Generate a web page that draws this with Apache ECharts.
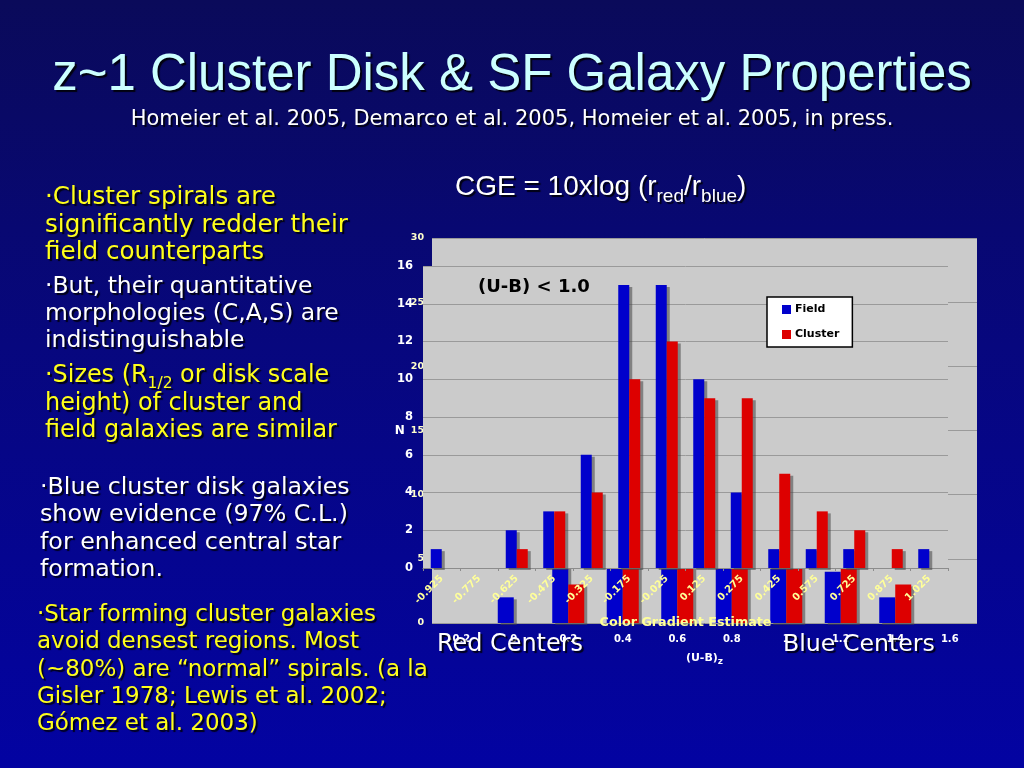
<!DOCTYPE html>
<html>
<head>
<meta charset="utf-8">
<script src="https://cdn.jsdelivr.net/npm/echarts@6/dist/echarts.min.js"></script>
<style>
html,body{margin:0;padding:0;background:#06065a;}
#c{width:1024px;height:768px;background:linear-gradient(180deg,#0a0a5a 0%,#07077e 45%,#0303a2 100%);}
</style>
</head>
<body>
<div id="c"></div>
<script>
// ---- front chart: Color Gradient Estimate histogram ----
const frontCategories = ['-0.925','-0.775','-0.625','-0.475','-0.325','-0.175','-0.025','0.125','0.275','0.425','0.575','0.725','0.875','1.025'];
const fieldCGE   = [1,0,2,3,6,15,15,10,4,1,1,1,0,1];
const clusterCGE = [0,0,1,3,4,10,12,9,9,5,3,2,1,0];
const frontYTicks = [0,2,4,6,8,10,12,14,16];

// ---- back chart: (U-B)z histogram (mostly hidden behind the front chart) ----
const backCategories = ['-0.2','0','0.2','0.4','0.6','0.8','1','1.2','1.4','1.6'];
const fieldUB   = [0,2,6,14,22,18,12,4,2,0];
const clusterUB = [0,0,3,8,18,20,16,10,3,0];
const backYTicks = [0,5,10,15,20,25,30];

const seriesNames = ['Field','Cluster'];

const LF = 'DejaVu Sans';
const M = document.createElement('canvas').getContext('2d');
function plain(t){ return t.replace(/\{[a-z]+\|([^}]*)\}/g,'$1'); }
function fit(text, fam, weight, w){
  M.font = weight + ' 100px "' + fam + '"';
  return 100 * w / M.measureText(plain(text)).width;
}

const shadowTxt = {textShadowColor:'rgba(0,0,0,0.85)', textShadowOffsetX:2, textShadowOffsetY:2, textShadowBlur:1};

function textEl(x, y, text, size, color, extra){
  extra = extra || {};
  const fam = extra.family || LF;
  const weight = extra.weight || 'normal';
  const st = Object.assign({
    text: text, fill: color, fontSize: size, fontFamily: fam, fontWeight: weight,
    align: extra.align || 'left', textAlign: extra.align || 'left',
    verticalAlign: 'middle', textVerticalAlign: 'middle',
    lineHeight: size * 1.3,
    rich: {
      s: {fill: color, fontSize: size * 0.65, fontFamily: fam, fontWeight: weight,
          lineHeight: size * 0.6, verticalAlign: 'bottom'}
    }
  }, extra.shadow === false ? {} : shadowTxt);
  return {type:'text', x:x, y:y, z:30, silent:true, style: st};
}

const blocks = [
  {x:45, color:'#ffff1a', ref:1, refW:303, lines:[['·Cluster spirals are',198],['significantly redder their',226],['field counterparts',253]]},
  {x:45, color:'#ffffff', ref:1, refW:294, lines:[['·But, their quantitative',287],['morphologies (C,A,S) are',314],['indistinguishable',341]]},
  {x:45, color:'#ffff1a', ref:2, refW:292, lines:[['·Sizes (R{s|1/2} or disk scale',376],['height) of cluster and',404],['field galaxies are similar',431]]},
  {x:40, color:'#ffffff', ref:0, refW:310, lines:[['·Blue cluster disk galaxies',488],['show evidence (97% C.L.)',515],['for enhanced central star',543],['formation.',570]]},
  {x:37, color:'#ffff1a', ref:2, refW:391, lines:[['·Star forming cluster galaxies',615],['avoid densest regions. Most',642],['(~80%) are “normal” spirals. (a la',670],['Gisler 1978; Lewis et al. 2002;',697],['Gómez et al. 2003)',724]]}
];

const graphics = [];
blocks.forEach(b => {
  const sz = fit(b.lines[b.ref][0], LF, 'normal', b.refW);
  b.lines.forEach(l => graphics.push(textEl(b.x, l[1], l[0], sz, b.color)));
});

const titleText = 'z~1 Cluster Disk & SF Galaxy Properties';
graphics.push(textEl(512, 76, titleText, fit(titleText,'Liberation Sans','normal',920), '#ccffff', {family:'Liberation Sans', align:'center'}));
const subText = 'Homeier et al. 2005, Demarco et al. 2005, Homeier et al. 2005, in press.';
graphics.push(textEl(512, 120, subText, fit(subText, LF, 'normal', 763), '#ffffff', {align:'center'}));

// CGE formula
graphics.push({type:'text', x:455, y:187, z:30, silent:true, style: Object.assign({
  text:'{m|CGE = 10xlog (r}{s|red}{m|/r}{s|blue}{m|)}',
  fill:'#fff', align:'left', textAlign:'left', verticalAlign:'middle', textVerticalAlign:'middle',
  rich:{
    m:{fill:'#fff', fontSize:28, fontFamily:'Liberation Sans', lineHeight:38},
    s:{fill:'#fff', fontSize:19, fontFamily:'Liberation Sans', lineHeight:20, verticalAlign:'bottom'}
  }}, shadowTxt)});

const ubText = '(U-B) < 1.0';
graphics.push(textEl(478, 287, ubText, fit(ubText, LF, 'bold', 112), '#000', {weight:'bold', shadow:false}));
graphics.push(textEl(437, 645, 'Red Centers', fit('Red Centers', LF, 'normal', 146), '#fff'));
graphics.push(textEl(783, 645, 'Blue Centers', fit('Blue Centers', LF, 'normal', 152), '#fff'));

const barShadow = {shadowColor:'rgba(70,70,70,0.55)', shadowBlur:0, shadowOffsetX:3, shadowOffsetY:2};

const option = {
  backgroundColor: 'transparent',
  animation: false,
  grid: [
    {left:432, top:238, width:545, height:385, show:true, backgroundColor:'#cbcbcb', borderWidth:0, z:0},
    {left:423, top:266, width:525, height:302, show:true, backgroundColor:'#cbcbcb', borderWidth:0, z:3}
  ],
  legend: {
    data: seriesNames, orient:'vertical', left:767, top:297,
    backgroundColor:'#ffffff', borderColor:'#000', borderWidth:1.5, borderRadius:0,
    padding:[7,13,7,15], itemGap:14, itemWidth:9, itemHeight:9, icon:'rect',
    selectedMode:false, z:10,
    itemStyle:{shadowBlur:0, shadowOffsetX:0, shadowOffsetY:0, shadowColor:'transparent', borderWidth:0},
    textStyle:{color:'#000', fontFamily:LF, fontWeight:'bold', fontSize:11, padding:[0,0,0,-1]}
  },
  xAxis: [
    {type:'category', gridIndex:0, data:backCategories, z:1,
      axisLine:{show:false}, axisTick:{show:false}, splitLine:{show:false},
      axisLabel:{interval:0, color:'#fff', fontFamily:LF, fontWeight:'bold', fontSize:10, margin:11},
      name:'{a|(U-B)}{b|z}', nameLocation:'middle', nameGap:27,
      nameTextStyle:{rich:{
        a:{color:'#fff', fontFamily:LF, fontWeight:'bold', fontSize:11, lineHeight:16},
        b:{color:'#fff', fontFamily:LF, fontWeight:'bold', fontSize:9, lineHeight:8, verticalAlign:'bottom'}
      }}},
    {type:'category', gridIndex:1, data:frontCategories, z:4,
      axisLine:{show:true, lineStyle:{color:'#8c8c8c', width:1}},
      axisTick:{show:true, length:3, lineStyle:{color:'#8c8c8c'}},
      axisLabel:{interval:0, rotate:45, color:'#ffff99', fontFamily:LF, fontWeight:'bold', fontSize:10, margin:9},
      name:'Color Gradient Estimate', nameLocation:'middle', nameGap:48,
      nameTextStyle:{color:'#ffff99', fontFamily:LF, fontWeight:'bold', fontSize: fit('Color Gradient Estimate', LF, 'bold', 172)}}
  ],
  yAxis: [
    {type:'value', gridIndex:0, min:backYTicks[0], max:backYTicks[backYTicks.length-1], interval:backYTicks[1]-backYTicks[0], z:1,
      axisLine:{show:false}, axisTick:{show:false},
      splitLine:{lineStyle:{color:'#9a9a9a', width:1}},
      axisLabel:{color:'#ffffcc', fontFamily:LF, fontWeight:'bold', fontSize:9.5, margin:8},
      name:'N', nameLocation:'middle', nameRotate:0, nameGap:25,
      nameTextStyle:{color:'#fff', fontFamily:LF, fontWeight:'bold', fontSize:12}},
    {type:'value', gridIndex:1, min:frontYTicks[0], max:frontYTicks[frontYTicks.length-1], interval:frontYTicks[1]-frontYTicks[0], z:4,
      axisLine:{show:false}, axisTick:{show:false},
      splitLine:{lineStyle:{color:'#9a9a9a', width:1}},
      axisLabel:{color:'#fff', fontFamily:LF, fontWeight:'bold', fontSize:11.5, margin:10}}
  ],
  series: [
    {name:'Field (U-B)z', type:'bar', xAxisIndex:0, yAxisIndex:0, data:fieldUB, barWidth:16, barGap:'0%', z:2,
      itemStyle:Object.assign({color:'#0000cc'}, barShadow)},
    {name:'Cluster (U-B)z', type:'bar', xAxisIndex:0, yAxisIndex:0, data:clusterUB, barWidth:16, barGap:'0%', z:2,
      itemStyle:Object.assign({color:'#dd0000'}, barShadow)},
    {name:seriesNames[0], type:'bar', xAxisIndex:1, yAxisIndex:1, data:fieldCGE, barWidth:11, barGap:'0%', z:5,
      itemStyle:Object.assign({color:'#0000cc'}, barShadow)},
    {name:seriesNames[1], type:'bar', xAxisIndex:1, yAxisIndex:1, data:clusterCGE, barWidth:11, barGap:'0%', z:5,
      itemStyle:Object.assign({color:'#dd0000'}, barShadow)}
  ],
  graphic: graphics
};

const chart = echarts.init(document.getElementById('c'), null, {renderer:'canvas'});
chart.setOption(option);
</script>
</body>
</html>
